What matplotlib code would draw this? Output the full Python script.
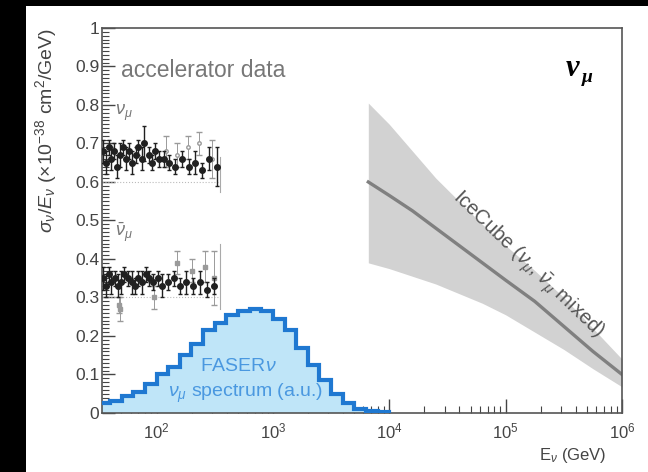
import numpy as np
import matplotlib.pyplot as plt
import matplotlib.ticker as ticker
from matplotlib.patches import Rectangle

plt.rcParams['font.family'] = ['Liberation Sans', 'DejaVu Sans']
plt.rcParams['mathtext.fontset'] = 'custom'
plt.rcParams['mathtext.rm'] = 'Liberation Sans'
plt.rcParams['mathtext.it'] = 'Liberation Sans:italic'

# accelerator measurements, nu_mu (E in GeV, sigma/E in 1e-38 cm^2/GeV)
nu_E = [35, 37, 39, 41, 43, 46, 49, 52, 55, 58, 62, 66, 70, 75, 78, 86, 92,
        98, 105, 115, 128, 145, 165, 190, 215, 245, 280, 330]
nu_xs = [0.68, 0.65, 0.69, 0.66, 0.68, 0.64, 0.67, 0.69, 0.66, 0.68, 0.65,
         0.67, 0.69, 0.66, 0.70, 0.67, 0.65, 0.68, 0.66, 0.66, 0.65, 0.64,
         0.66, 0.64, 0.65, 0.63, 0.66, 0.64]
nu_err = [0.03, 0.03, 0.02, 0.03, 0.02, 0.03, 0.03, 0.02, 0.03, 0.02, 0.03,
          0.02, 0.02, 0.03, 0.045, 0.02, 0.02, 0.02, 0.02, 0.02, 0.02, 0.02,
          0.02, 0.02, 0.03, 0.02, 0.03, 0.05]
nu_faint_E = [120, 150, 185, 230, 300]
nu_faint_xs = [0.68, 0.67, 0.69, 0.70, 0.66]
nu_faint_err = [0.04, 0.03, 0.03, 0.03, 0.05]

# accelerator measurements, anti-nu_mu
nub_E = [35, 37, 39, 41, 44, 47, 50, 53, 57, 61, 65, 70, 75, 81, 87, 94,
         102, 112, 125, 140, 160, 180, 205, 235, 270, 310]
nub_xs = [0.35, 0.33, 0.36, 0.34, 0.35, 0.33, 0.34, 0.36, 0.35, 0.34, 0.33,
          0.35, 0.34, 0.36, 0.35, 0.34, 0.35, 0.33, 0.34, 0.35, 0.33, 0.34,
          0.33, 0.34, 0.32, 0.33]
nub_err = [0.03, 0.03, 0.02, 0.03, 0.02, 0.03, 0.03, 0.02, 0.02, 0.03, 0.02,
           0.02, 0.03, 0.02, 0.02, 0.02, 0.02, 0.03, 0.02, 0.02, 0.02, 0.03,
           0.02, 0.03, 0.02, 0.02]
nub_faint_E = [48, 49, 95, 150, 200, 260, 310]
nub_faint_xs = [0.28, 0.27, 0.30, 0.39, 0.37, 0.38, 0.35]
nub_faint_err = [0.02, 0.03, 0.03, 0.03, 0.03, 0.04, 0.07]

# FASERnu nu_mu spectrum (arbitrary units), bins of 0.1 in log10(E)
faser_edges = np.logspace(1.5, 4.0, 26)
faser_counts = [0.025, 0.03, 0.045, 0.055, 0.075, 0.10, 0.12, 0.15, 0.18,
                0.215, 0.235, 0.255, 0.265, 0.27, 0.265, 0.245, 0.215, 0.17,
                0.125, 0.085, 0.05, 0.025, 0.01, 0.005, 0.003]

# IceCube measurement, central value and band
ic_logE = [3.82, 4.0, 4.2, 4.4, 4.6, 4.8, 5.0, 5.25, 5.5, 5.75, 6.0]
ic_central = [0.60, 0.565, 0.525, 0.48, 0.435, 0.39, 0.345, 0.29, 0.225, 0.16, 0.10]
ic_upper = [0.805, 0.75, 0.68, 0.61, 0.55, 0.49, 0.435, 0.37, 0.30, 0.22, 0.14]
ic_lower = [0.39, 0.375, 0.355, 0.335, 0.31, 0.285, 0.255, 0.21, 0.165, 0.115, 0.068]

fig = plt.figure(figsize=(6.48, 4.72), dpi=100, facecolor='black')
fig.patches.append(Rectangle((0.040, 0.0), 0.96, 0.987, transform=fig.transFigure,
                             facecolor='white', edgecolor='none', zorder=-10))
ax = fig.add_axes([0.1574, 0.125, 0.8025, 0.8157])
ax.set_facecolor('white')
ax.set_xscale('log')
ax.set_xlim(34, 1e6)
ax.set_ylim(0, 1)

# IceCube band
ic_E = 10 ** np.array(ic_logE)
ax.fill_between(ic_E, ic_lower, ic_upper, color='#d2d2d2', lw=0, zorder=1)
ax.plot(ic_E, ic_central, color='#808080', lw=2.4, zorder=2)
ax.text(10 ** 5.19, 0.385, r'IceCube ($\nu_\mu$, $\bar{\nu}_\mu$ mixed)', rotation=-44,
        rotation_mode='anchor', ha='center', va='center', fontsize=14.5,
        color='#555555', zorder=3)

# FASERnu spectrum
fill = ax.stairs(faser_counts, faser_edges, fill=True, color='#bfe5f8', zorder=2)
ax.stairs(faser_counts, faser_edges, baseline=0, color='#1f78d1', lw=3, zorder=4)
t1 = ax.text(500, 0.12, r'FASER$\nu$', ha='center', va='center', fontsize=14,
             color='#4a98e0', zorder=3)
t2 = ax.text(125, 0.052, r'$\nu_\mu$ spectrum (a.u.)', ha='left', va='center',
             fontsize=14, color='#4a98e0', zorder=3)
for t in (t1, t2):
    t.set_clip_path(fill)

# accelerator data
acc_box_E = 350
ax.plot([34, acc_box_E], [0.60, 0.60], color='#bbbbbb', lw=0.8, ls=':', zorder=2)
ax.plot([acc_box_E, acc_box_E], [0.575, 0.665], color='#aaaaaa', lw=0.8, zorder=2)
ax.plot([34, acc_box_E], [0.30, 0.30], color='#bbbbbb', lw=0.8, ls=':', zorder=2)
ax.plot([acc_box_E, acc_box_E], [0.27, 0.44], color='#aaaaaa', lw=0.8, zorder=2)
ax.errorbar(nu_faint_E, nu_faint_xs, yerr=nu_faint_err, fmt='o', ms=2.5,
            color='#9a9a9a', mfc='white', elinewidth=0.7, capsize=2, zorder=4)
ax.errorbar(nub_faint_E, nub_faint_xs, yerr=nub_faint_err, fmt='s', ms=2.5,
            color='#9a9a9a', elinewidth=0.7, capsize=2, zorder=4)
ax.errorbar(nu_E, nu_xs, yerr=nu_err, fmt='o', ms=4, color='#202020',
            elinewidth=1.0, capsize=1.5, zorder=5)
ax.errorbar(nub_E, nub_xs, yerr=nub_err, fmt='o', ms=4, color='#202020',
            elinewidth=1.0, capsize=1.5, zorder=5)

ax.text(50, 0.89, 'accelerator data', ha='left', va='center', fontsize=16.5, color='#777777')
ax.text(44, 0.78, r'$\nu_\mu$', ha='left', va='center', fontsize=13, color='#777777')
ax.text(44, 0.47, r'$\bar{\nu}_\mu$', ha='left', va='center', fontsize=13, color='#777777')

# flavour tag
ax.text(0.905, 0.895, 'ν', transform=ax.transAxes, fontsize=22, fontweight='bold',
        style='italic', family=['Liberation Serif', 'DejaVu Serif'], ha='center', va='center')
ax.text(0.933, 0.872, 'μ', transform=ax.transAxes, fontsize=14, fontweight='bold',
        style='italic', family=['Liberation Serif', 'DejaVu Serif'], ha='center', va='center')

# ROOT-like frame and ticks
for sp in ax.spines.values():
    sp.set_color('#555555')
    sp.set_linewidth(1.2)
ax.yaxis.set_major_locator(ticker.MultipleLocator(0.1))
ax.yaxis.set_minor_locator(ticker.MultipleLocator(0.01))
ax.yaxis.set_major_formatter(ticker.FuncFormatter(lambda v, p: '%g' % round(v, 2)))
ax.xaxis.set_major_locator(ticker.LogLocator(base=10, numticks=10))
ax.xaxis.set_minor_locator(ticker.LogLocator(base=10, subs=np.arange(2, 10), numticks=20))
ax.tick_params(axis='both', which='both', direction='in', color='#444444',
               labelcolor='#444444', top=False, right=False)
ax.tick_params(axis='y', which='major', length=9, width=1, pad=2, labelsize=12.5)
ax.tick_params(axis='y', which='minor', length=5, width=0.8)
ax.tick_params(axis='x', which='major', length=10, width=1, pad=6, labelsize=12)
ax.tick_params(axis='x', which='minor', length=5, width=0.8)

ax.set_ylabel(r'$\sigma_\nu/E_\nu$ ($\times10^{-38}$ cm$^2$/GeV)', loc='top',
              fontsize=14, color='#444444')
ax.yaxis.set_label_coords(-0.082, 1.0)
ax.set_xlabel(r'E$_\nu$ (GeV)', loc='right', fontsize=12, color='#444444')
ax.xaxis.set_label_coords(0.97, -0.085)

plt.savefig('out.png', dpi=100, facecolor=fig.get_facecolor())
